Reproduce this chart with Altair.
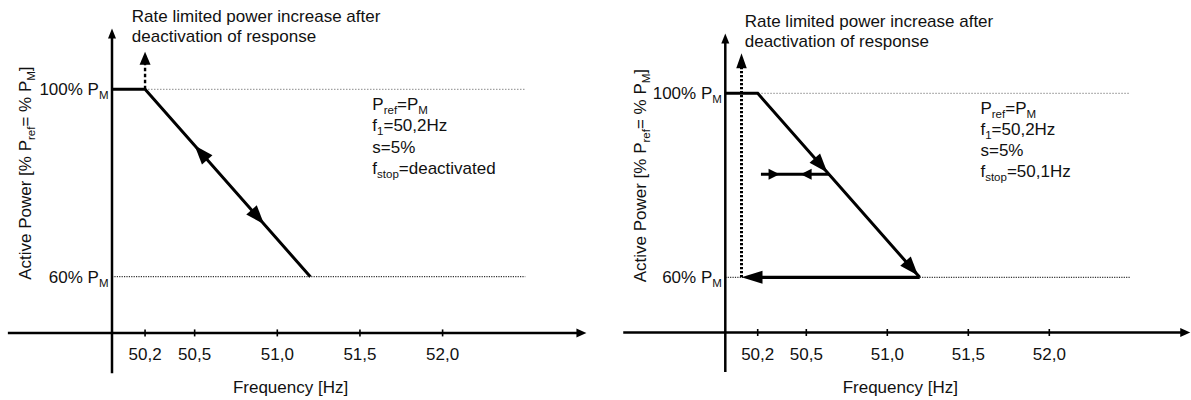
import math
import altair as alt
import pandas as pd

# ---------------- data ----------------
TICK_FREQS = [50.2, 50.5, 51.0, 51.5, 52.0]
TICK_LABELS = ["50,2", "50,5", "51,0", "51,5", "52,0"]
LEVEL_P = [100, 60]
LEVEL_TEXT = ["100% P", "60% P"]
LEVEL_SUB = ["M", "M"]
CURVE_F = [50.0, 50.2, 51.2]
CURVE_P = [100, 100, 60]
F_ORIGIN = 50.0
P_ORIGIN = 48.0
X_AXIS_RANGE = [49.37, 52.87]
Y_AXIS_RANGE = [39.4, 113.0]
REF_LINE_END = 52.5

TITLE_LINES = ["Rate limited power increase after", "deactivation of response"]
TITLE_F = 50.12
TITLE_P = [114.4, 110.1]
X_TITLE = "Frequency [Hz]"
X_TITLE_F = 51.08
Y_TITLE_SEGS = [("Active Power [% P", 0), ("ref", 1), ("= % P", 0), ("M", 1), ("]", 0)]
Y_TITLE_F = 49.51
Y_TITLE_P = 82.1
PARAM_F = 51.575
PARAM_P = 95.6

# left panel: f_stop deactivated
L_PARAMS = [[("P", 0), ("ref", 1), ("=P", 0), ("M", 1)],
            [("f", 0), ("1", 1), ("=50,2Hz", 0)],
            [("s=5%", 0)],
            [("f", 0), ("stop", 1), ("=deactivated", 0)]]
L_DASH_F = 50.2
L_DASH_P = [100, 108.0]
L_DIAG_ARROW_F = [50.5, 50.92]
L_DIAG_ARROW_P = [88.0, 71.2]
L_DIAG_ARROW_DIR = [-1, 1]          # -1 = up the droop line, +1 = down

# right panel: f_stop = 50,1 Hz
R_PARAMS = [[("P", 0), ("ref", 1), ("=P", 0), ("M", 1)],
            [("f", 0), ("1", 1), ("=50,2Hz", 0)],
            [("s=5%", 0)],
            [("f", 0), ("stop", 1), ("=50,1Hz", 0)]]
F_STOP = 50.1
R_DASH_P = [60, 108.7]
R_RETURN_F = [51.2, 50.1]
R_RETURN_P = 60
R_HOLD_F = [50.22, 50.64]
R_HOLD_P = 82.4
R_HOLD_ARROW_F = [50.335, 50.465]
R_HOLD_ARROW_DIR = [1, -1]          # +1 = right, -1 = left
R_DIAG_ARROW_F = [50.63, 51.19]
R_DIAG_ARROW_P = [82.8, 60.4]

# ---------------- styling / layout ----------------
FONT = "Liberation Sans"
INK = "#000000"
TXT = "#111111"
FS = 17
SUB = 11.5
SUB_DY = 4
H = 400
PANELS = {
    "L": dict(width=598, kx=165.3, ky=4.685, ox=112.0, oy=89.3),
    "R": dict(width=593, kx=162.0, ky=4.6, ox=127.3, oy=93.3),
}

AW = {' ': 278, '%': 889, ',': 278, '0': 556, '1': 556, '2': 556, '5': 556, '=': 584,
      'A': 667, 'F': 611, 'H': 722, 'M': 833, 'P': 667, '[': 278, ']': 278, 'R': 722,
      'a': 556, 'c': 500, 'd': 556, 'e': 556, 'f': 278, 'i': 222, 'l': 222, 'm': 833,
      'n': 556, 'o': 556, 'p': 556, 'q': 556, 'r': 333, 's': 500, 't': 278, 'u': 556,
      'v': 500, 'w': 722, 'y': 500, 'z': 500}


def tw(s, size):
    return sum(AW.get(c, 556) for c in s) * size / 1000.0


def angle_of(vx, vy):
    return math.degrees(math.atan2(vx, -vy)) % 360


def build_panel(pn, extra):
    P = PANELS[pn]
    kx, ky = P["kx"], P["ky"]
    x0 = 50 - P["ox"] / kx
    ytop = 100 + P["oy"] / ky
    X = alt.X("f:Q", scale=alt.Scale(domain=[x0, x0 + P["width"] / kx], nice=False, zero=False), axis=None)
    Y = alt.Y("p:Q", scale=alt.Scale(domain=[ytop - H / ky, ytop], nice=False, zero=False), axis=None)
    layers = []

    def rule(f, f2, p, p2, width=2.5, color=INK, dash=None):
        df = pd.DataFrame({"f": [f], "f2": [f2], "p": [p], "p2": [p2]})
        kw = dict(strokeWidth=width, color=color, strokeCap="butt")
        if dash:
            kw["strokeDash"] = dash
        return alt.Chart(df).mark_rule(**kw).encode(x=X, x2=alt.X2("f2:Q"), y=Y, y2=alt.Y2("p2:Q"))

    def arrows(fs, ps, angles, L, W):
        df = pd.DataFrame({"f": fs, "p": ps, "a": angles})
        shape = f"M0,0L{W/2:.2f},{L:.2f}L{-W/2:.2f},{L:.2f}Z"
        return alt.Chart(df).mark_point(shape=shape, size=4, filled=True, opacity=1,
                                        color=INK, strokeWidth=0).encode(
            x=X, y=Y, angle=alt.Angle("a:Q", scale=None))

    def text(f, p, t, size=FS, dx=0, dy=0, angle=0, align="left"):
        df = pd.DataFrame({"f": f if isinstance(f, list) else [f],
                           "p": p if isinstance(p, list) else [p],
                           "t": t if isinstance(t, list) else [t]})
        kw = dict(align=align, baseline="alphabetic", dx=dx, dy=dy, fontSize=size, font=FONT, color=TXT)
        if angle:
            kw["angle"] = angle
        return alt.Chart(df).mark_text(**kw).encode(x=X, y=Y, text="t:N")

    def rich(f, p, segs, anchor="left", dx0=0.0, dy0=0.0, angle=0, size=FS):
        total = sum(tw(t, SUB if s else size) for t, s in segs)
        pos = {"left": 0.0, "right": -total, "center": -total / 2}[anchor]
        out = []
        for t, s in segs:
            sz = SUB if s else size
            out.append(text(f, p, t, size=sz, dx=dx0 + pos, dy=dy0 + (SUB_DY if s else 0), angle=angle))
            pos += tw(t, sz)
        return out

    # dotted reference levels
    layers.append(rule(F_ORIGIN, REF_LINE_END, LEVEL_P[0], LEVEL_P[0], width=1, color="#8a8a8a", dash=[1.5, 1.5]))
    layers.append(rule(F_ORIGIN, REF_LINE_END, LEVEL_P[1], LEVEL_P[1], width=1, color="#000000", dash=[1.2, 1.2]))

    # axes with arrow heads
    ax_L, ax_W = 10, 9
    layers.append(rule(X_AXIS_RANGE[0], X_AXIS_RANGE[1] - (ax_L * 0.6) / kx, P_ORIGIN, P_ORIGIN))
    layers.append(rule(F_ORIGIN, F_ORIGIN, Y_AXIS_RANGE[0], Y_AXIS_RANGE[1] - (ax_L * 0.6) / ky))
    layers.append(arrows([X_AXIS_RANGE[1]], [P_ORIGIN], [90], ax_L, ax_W))
    layers.append(arrows([F_ORIGIN], [Y_AXIS_RANGE[1]], [0], ax_L, 8))
    tdf = pd.DataFrame({"f": TICK_FREQS, "p": [P_ORIGIN] * len(TICK_FREQS)})
    layers.append(alt.Chart(tdf).mark_tick(orient="vertical", size=7, thickness=1.6, color=INK, opacity=1)
                  .encode(x=X, y=Y))
    layers.append(text(TICK_FREQS, [P_ORIGIN] * len(TICK_FREQS), TICK_LABELS, dy=27, align="center"))
    layers.append(text(X_TITLE_F, P_ORIGIN, X_TITLE, dy=60.5, align="center"))
    layers += rich(Y_TITLE_F, Y_TITLE_P, Y_TITLE_SEGS, anchor="center", angle=270)

    for lp, lt, ls in zip(LEVEL_P, LEVEL_TEXT, LEVEL_SUB):
        layers += rich(F_ORIGIN, lp, [(lt, 0), (ls, 1)], anchor="right", dx0=-3.5, dy0=5.8)

    for tp, tl in zip(TITLE_P, TITLE_LINES):
        layers.append(text(TITLE_F, tp, tl))

    # droop characteristic
    cdf = pd.DataFrame({"f": CURVE_F, "p": CURVE_P, "o": list(range(len(CURVE_F)))})
    layers.append(alt.Chart(cdf).mark_line(strokeWidth=3, color=INK, strokeJoin="miter", strokeCap="butt")
                  .encode(x=X, y=Y, order="o:Q"))

    down_angle = angle_of((CURVE_F[2] - CURVE_F[1]) * kx, -(CURVE_P[2] - CURVE_P[1]) * ky)
    up_angle = (down_angle + 180) % 360

    params = extra(layers, rule, arrows, text, rich, kx, ky, down_angle, up_angle)
    for i, segs in enumerate(params):
        layers += rich(PARAM_F, PARAM_P, segs, dy0=21.3 * i)

    return alt.layer(*layers).properties(width=P["width"], height=H)


def left_extra(layers, rule, arrows, text, rich, kx, ky, down_angle, up_angle):
    L, W = 13, 11
    layers.append(rule(L_DASH_F, L_DASH_F, L_DASH_P[0], L_DASH_P[1] - (L * 0.6) / ky, width=2.4, dash=[3.5, 2.5]))
    layers.append(arrows([L_DASH_F], [L_DASH_P[1]], [0], L, W))
    angs = [down_angle if d > 0 else up_angle for d in L_DIAG_ARROW_DIR]
    layers.append(arrows(L_DIAG_ARROW_F, L_DIAG_ARROW_P, angs, 19, 14))
    return L_PARAMS


def right_extra(layers, rule, arrows, text, rich, kx, ky, down_angle, up_angle):
    L, W = 15, 10.5
    layers.append(rule(F_STOP, F_STOP, R_DASH_P[0], R_DASH_P[1] - (L * 0.6) / ky, width=3, dash=[2.2, 1.8]))
    layers.append(arrows([F_STOP], [R_DASH_P[1]], [0], L, W))
    rl = 21
    layers.append(rule(R_RETURN_F[0], R_RETURN_F[1] + (rl * 0.6) / kx, R_RETURN_P, R_RETURN_P, width=3.2))
    layers.append(arrows([R_RETURN_F[1]], [R_RETURN_P], [270], rl, 13))
    layers.append(rule(R_HOLD_F[0], R_HOLD_F[1], R_HOLD_P, R_HOLD_P, width=3.2))
    angs = [90 if d > 0 else 270 for d in R_HOLD_ARROW_DIR]
    layers.append(arrows(R_HOLD_ARROW_F, [R_HOLD_P] * 2, angs, 11, 11))
    layers.append(arrows(R_DIAG_ARROW_F, R_DIAG_ARROW_P, [down_angle] * 2, 19, 14))
    return R_PARAMS


left = build_panel("L", left_extra)
right = build_panel("R", right_extra)

chart = (alt.hconcat(left, right, spacing=0, bounds="flush")
         .properties(padding=0, background="white")
         .configure_view(stroke=None))

chart.save("out.html", embed_options={"renderer": "svg", "actions": False})
